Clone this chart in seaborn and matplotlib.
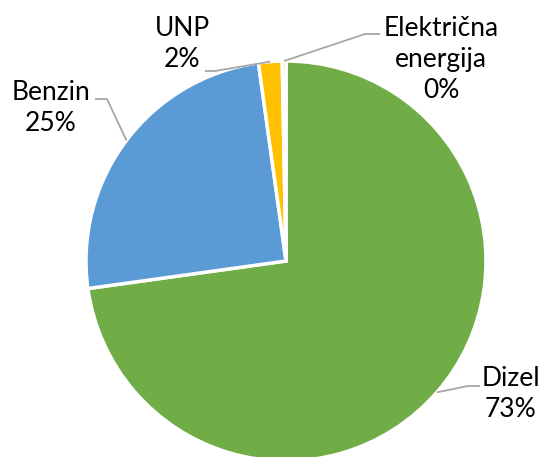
import numpy as np
import matplotlib
matplotlib.use('Agg')
import matplotlib.pyplot as plt
import seaborn as sns

# values (percent)
categories = ['Dizel', 'Benzin', 'UNP', 'Električna\nenergija']
shares     = [72.8, 25.0, 1.9, 0.3]
pct_labels = ['73%', '25%', '2%', '0%']
colors     = ['#70AD47', '#5B9BD5', '#FFC000', '#A5A5A5']

# label box centres in pixel coords (y measured from the top)
label_pos = [(511, 394), (51, 108), (182, 44), (441, 60)]
# elbow of each leader line (start of the horizontal part next to the label)
elbows    = [(468, 386), (107, 99), (215, 71), (365, 34)]
line_end  = [(480, 386), (95, 99), (205, 71), (380, 34)]

W, H = 544, 457
CX, CY, R = 286, 261, 200


def up(y):
    # pixel row from the top -> data y (y axis points up)
    return H - y


sns.set_theme(style='white')
plt.rcParams['font.family'] = ['Lato', 'DejaVu Sans']

fig = plt.figure(figsize=(W / 100, H / 100), dpi=100)
ax = fig.add_axes([0, 0, 1, 1])

wedges, _ = ax.pie(shares, colors=colors, startangle=90, counterclock=False,
                   center=(CX, up(CY)), radius=R, frame=True,
                   wedgeprops=dict(edgecolor='white', linewidth=2.5))
ax.set_xlim(0, W)
ax.set_ylim(0, H)
ax.set_axis_off()

for w, cat, pct, (tx, ty), (ex, ey), (lx, ly) in zip(
        wedges, categories, pct_labels, label_pos, elbows, line_end):
    mid = np.deg2rad((w.theta1 + w.theta2) / 2)
    px = CX + R * np.cos(mid)
    py = up(CY) + R * np.sin(mid)
    ax.plot([px, ex, lx], [py, up(ey), up(ly)], color='#A6A6A6', lw=1.3,
            solid_capstyle='butt')
    ax.text(tx, up(ty), f'{cat}\n{pct}', ha='center', va='center',
            fontsize=19, linespacing=1.3, color='black')

fig.savefig('out.png', dpi=100)
